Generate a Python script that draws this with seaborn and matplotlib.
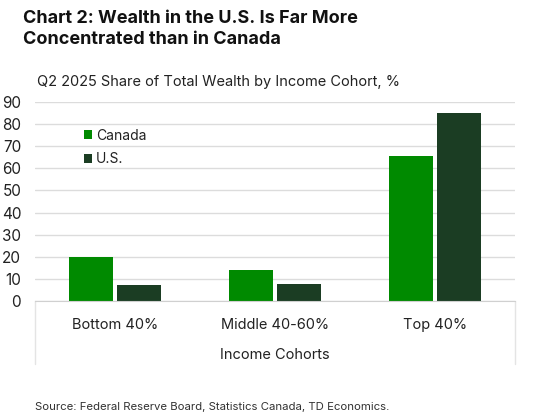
import pandas as pd
import matplotlib.pyplot as plt
import seaborn as sns

# Q2 2025 share of total wealth, %
cohorts = ['Bottom 40%', 'Middle 40-60%', 'Top 40%']
canada = [20.0, 14.2, 65.6]
us = [7.1, 7.8, 85.1]

df = pd.DataFrame({
    'Cohort': cohorts * 2,
    'Share': canada + us,
    'Country': ['Canada'] * 3 + ['U.S.'] * 3,
})

sns.set_style('white')
plt.rcParams['font.family'] = ['Inter', 'DejaVu Sans']

fig = plt.figure(figsize=(5.56, 4.15), dpi=100)
ax = fig.add_axes([0.063, 0.275, 0.863, 0.479])

sns.barplot(data=df, x='Cohort', y='Share', hue='Country',
            palette={'Canada': '#008a00', 'U.S.': '#1b3d23'},
            width=0.594, gap=0.07, ax=ax, saturation=1, linewidth=0)

ax.set_ylim(0, 90)
ax.set_yticks(range(0, 91, 10))
ax.set_xlim(-0.5, 2.5)
ax.yaxis.grid(True, color='#dcdcdc', linewidth=1)
ax.set_axisbelow(True)
for s in ['top', 'right', 'left']:
    ax.spines[s].set_visible(False)
ax.spines['bottom'].set_color('#d0d0d0')
ax.tick_params(axis='y', labelsize=11, colors='#222222', length=0, pad=10)
ax.tick_params(axis='x', labelsize=10.5, colors='#222222', length=0, pad=12)
for lab in ax.get_yticklabels():
    lab.set_horizontalalignment('right')
ax.set_ylabel('')
ax.set_xlabel('Income Cohorts', fontsize=10.5, color='#222222', labelpad=12)

# light frame lines running down past the category labels
for xf in (0, 1):
    ax.plot([xf, xf], [0, -0.32], transform=ax.transAxes, color='#e4e4e4',
            linewidth=1, clip_on=False)

leg = ax.legend(loc='upper left', bbox_to_anchor=(0.075, 0.93), frameon=False,
                fontsize=10, handlelength=0.6, handleheight=0.6,
                handletextpad=0.3, labelspacing=0.7)
for t in leg.get_texts():
    t.set_color('#222222')

fig.text(0.041, 0.975, 'Chart 2: Wealth in the U.S. Is Far More\nConcentrated than in Canada',
         fontsize=13, fontweight='bold', va='top', ha='left', color='#111111',
         linespacing=1.25)
fig.text(0.066, 0.802, 'Q2 2025 Share of Total Wealth by Income Cohort, %',
         fontsize=10.5, va='center', ha='left', color='#222222')
fig.text(0.063, 0.02, 'Source: Federal Reserve Board, Statistics Canada, TD Economics.',
         fontsize=8.2, va='center', ha='left', color='#333333')

fig.savefig('out.png', dpi=100)
